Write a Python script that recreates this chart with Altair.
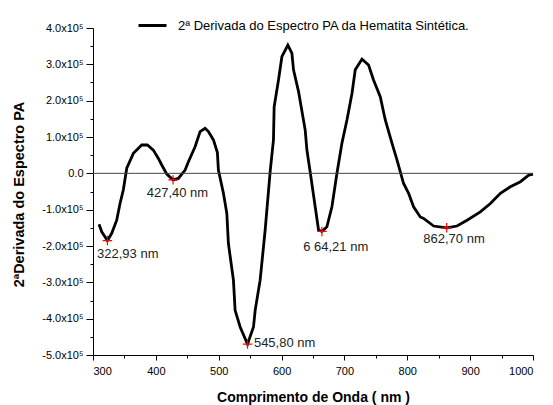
import altair as alt
import pandas as pd

# wavelength (nm) and 2nd derivative (units of 1e5)
wavelength = [309.6, 313.9, 322.93, 329.8, 337.7, 343.0, 348.2, 353.7, 364.2, 377.5,
              386.5, 396.0, 404.0, 409.4, 417.4, 427.4, 435.8, 446.5, 451.8, 462.4,
              470.4, 478.3, 483.6, 491.6, 497.9, 499.5, 507.5, 512.9, 515.4, 523.4,
              526.1, 534.1, 545.8, 555.3, 558.0, 565.9, 573.9, 581.8, 587.1, 588.2,
              595.1, 600.5, 610.0, 616.4, 619.0, 627.0, 637.6, 640.3, 645.5, 653.5,
              658.8, 664.21, 672.1, 680.1, 688.1, 696.0, 704.0, 712.0, 717.2, 727.9,
              738.4, 746.3, 757.0, 765.0, 775.6, 783.6, 788.9, 794.1, 802.1, 810.0,
              820.7, 826.0, 841.9, 862.7, 879.1, 895.1, 916.2, 932.2, 948.1, 964.0,
              980.0, 993.2, 1000.0]
deriv = [-1.40, -1.61, -1.85, -1.65, -1.29, -0.83, -0.46, 0.14, 0.55, 0.78,
         0.78, 0.64, 0.41, 0.23, -0.02, -0.18, -0.14, 0.09, 0.32, 0.73,
         1.15, 1.24, 1.15, 0.92, 0.57, 0.09, -0.55, -1.10, -1.93, -2.94,
         -3.77, -4.23, -4.70, -4.23, -3.77, -2.94, -1.56, 0.04, 0.92, 1.83,
         2.57, 3.21, 3.53, 3.31, 2.85, 2.25, 1.19, 0.64, 0.04, -0.92,
         -1.56, -1.60, -1.47, -0.92, 0.00, 0.83, 1.47, 2.20, 2.85, 3.14,
         2.98, 2.57, 2.11, 1.47, 0.83, 0.37, 0.04, -0.28, -0.55, -0.92,
         -1.20, -1.24, -1.45, -1.50, -1.45, -1.29, -1.06, -0.83, -0.55, -0.37,
         -0.23, -0.05, -0.02]

# minima marked with red crosses
min_x = [322.93, 427.40, 545.80, 664.21, 862.70]
min_y = [-1.85, -0.18, -4.70, -1.60, -1.50]
min_labels = ["322,93 nm", "427,40 nm", "545,80 nm", "6 64,21 nm", "862,70 nm"]
label_x = [306.4, 385.5, 556.0, 634.4, 825.5]
label_y = [-2.22, -0.54, -4.67, -2.03, -1.81]

series_name = "2ª Derivada do Espectro PA da Hematita Sintética."
y_ticks = [v * 50000 for v in range(-10, 9)]
x_ticks = list(range(300, 1001, 50))

FONT = "Liberation Sans"

curve = pd.DataFrame({"x": wavelength, "y": [v * 1e5 for v in deriv], "serie": series_name})
mins = pd.DataFrame({"x": min_x, "y": [v * 1e5 for v in min_y]})
labels = pd.DataFrame({"x": label_x, "y": [v * 1e5 for v in label_y], "t": min_labels})
zero_df = pd.DataFrame({"y": [0]})

xscale = alt.Scale(domain=[300, 1000], nice=False, zero=False)
yscale = alt.Scale(domain=[-500000, 400000], nice=False, zero=False)

xaxis = alt.Axis(
    values=x_ticks,
    labelExpr="datum.value % 100 === 0 ? format(datum.value, 'd') : ''",
    tickSize={"condition": {"test": "datum.value % 100 === 0", "value": 5}, "value": 3},
    labelOverlap=False, grid=False, domainColor="black", tickColor="black",
    labelFont=FONT, labelFontSize=11, labelColor="black", labelPadding=5,
    title="Comprimento de Onda ( nm )", titleFont=FONT, titleFontSize=14,
    titleFontWeight="bold", titleColor="black", titlePadding=14,
)
yaxis = alt.Axis(
    values=y_ticks,
    labelExpr="datum.value % 100000 !== 0 ? '' : (datum.value === 0 ? '0.0' : (datum.value < 0 ? '-' : '') + format(abs(datum.value) / 100000, '.1f') + 'x10⁵')",
    tickSize={"condition": {"test": "datum.value % 100000 === 0", "value": 7}, "value": 3},
    labelOverlap=False, grid=False, domainColor="black", tickColor="black",
    labelFont=FONT, labelFontSize=11, labelColor="black", labelPadding=3,
    title="2ªDerivada do Espectro PA", titleFont=FONT, titleFontSize=14.5,
    titleFontWeight="bold", titleColor="black", titleX=-67, titleY=166,
)

X = alt.X("x:Q", scale=xscale, axis=xaxis)
Y = alt.Y("y:Q", scale=yscale, axis=yaxis)

line = alt.Chart(curve).mark_line(strokeWidth=2.8, color="black").encode(
    x=X, y=Y,
    color=alt.Color(
        "serie:N",
        scale=alt.Scale(range=["black"]),
        legend=alt.Legend(
            title=None, orient="none", legendX=44, legendY=-18, padding=0,
            symbolType="stroke", symbolStrokeWidth=3, symbolSize=784,
            labelFont=FONT, labelFontSize=13, labelColor="black", labelOffset=10,
            labelLimit=0,
        ),
    ),
)

zero = alt.Chart(zero_df).mark_rule(color="#444444", strokeWidth=1).encode(y=Y)

cross = alt.Chart(mins).mark_point(
    shape="M-1,0L1,0M0,-1L0,1", filled=False, color="red", strokeWidth=1.2, size=90, opacity=1
).encode(x=X, y=Y)

text = alt.Chart(labels).mark_text(
    align="left", baseline="middle", font=FONT, fontSize=13, color="#222222"
).encode(x=X, y=Y, text="t:N")

chart = alt.layer(line, zero, cross, text).properties(
    width=440, height=327,
    autosize=alt.AutoSizeParams(type="none"),
    padding={"left": 85, "top": 20, "right": 12, "bottom": 60},
).configure(background="white").configure_view(stroke=None)

chart.save("out.html", embed_options={"renderer": "svg", "actions": False})
